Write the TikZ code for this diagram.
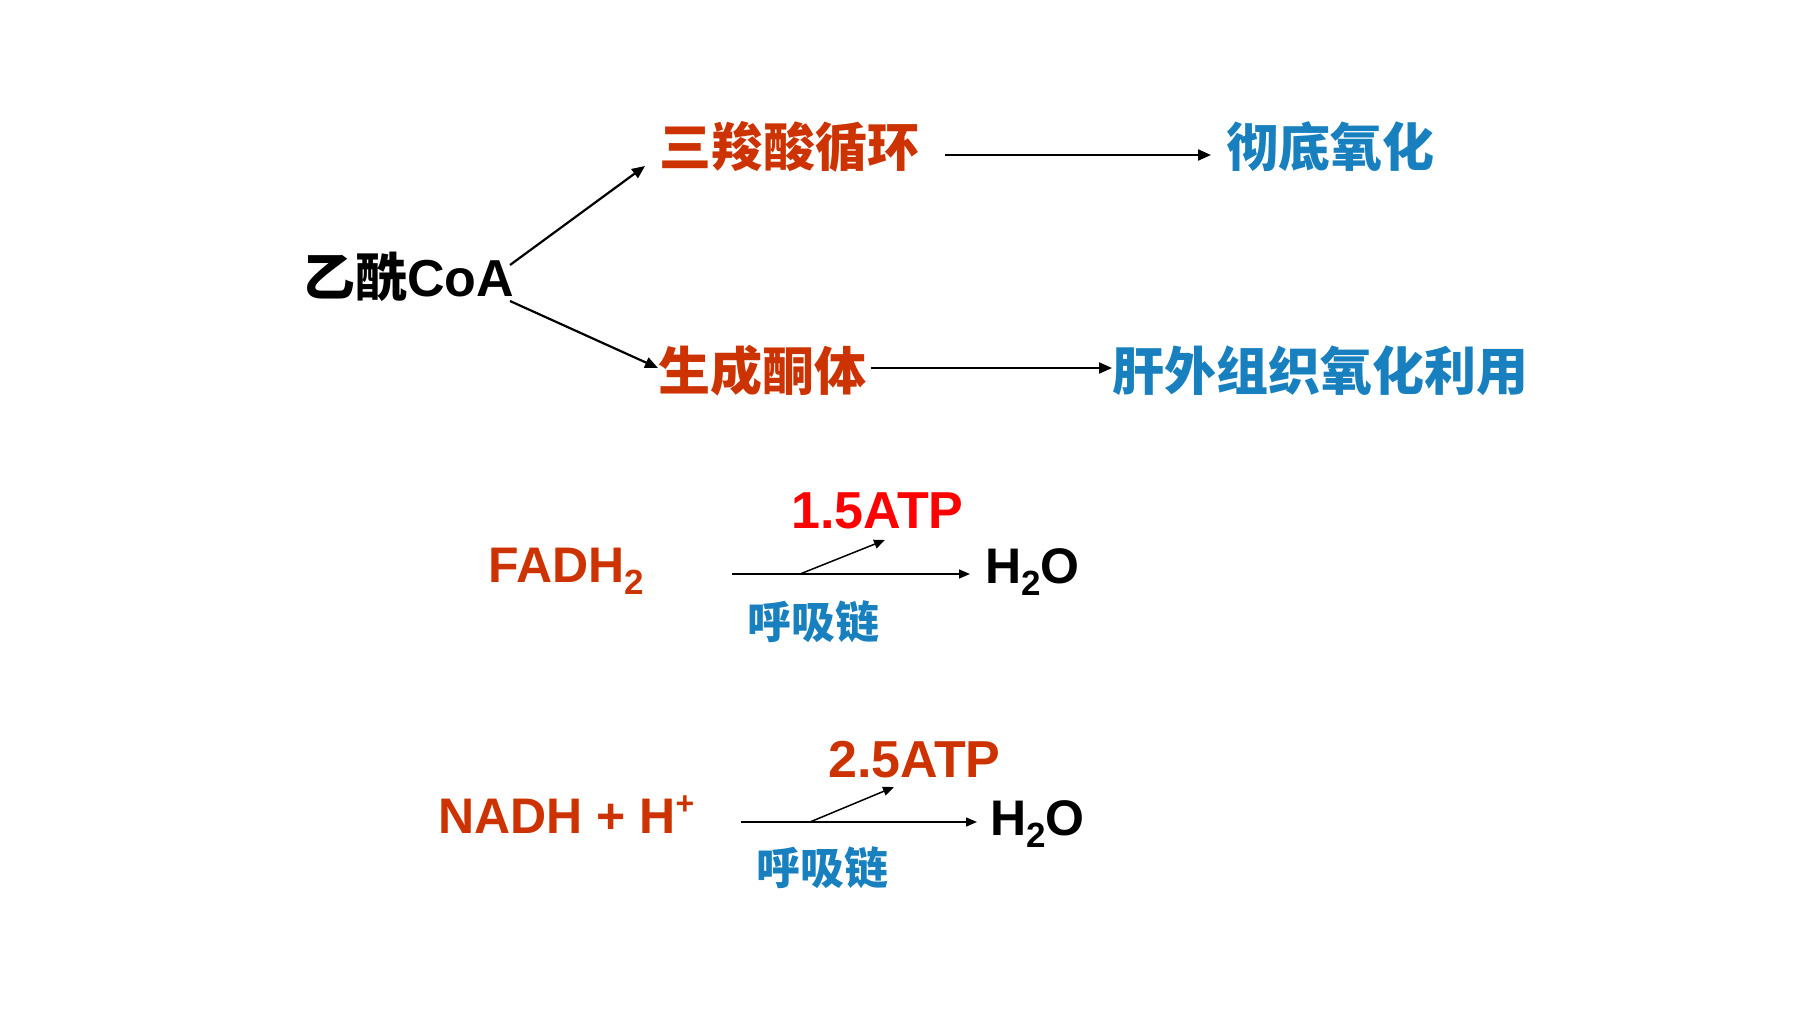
\documentclass[tikz,border=0pt]{standalone}
\usepackage{fontspec}
\setmainfont{Liberation Sans}
\newfontfamily\cjk{Noto Sans CJK SC}
\usetikzlibrary{arrows.meta}
\definecolor{ored}{RGB}{204,51,0}
\definecolor{pblue}{RGB}{24,128,190}
\definecolor{bred}{RGB}{255,0,0}
\tikzset{
  cjkbig/.style={inner sep=0pt, font=\cjk\bfseries\fontsize{52}{52}\selectfont},
  cjksmall/.style={inner sep=0pt, font=\cjk\bfseries\fontsize{44}{44}\selectfont, text=pblue},
  latin/.style={inner sep=0pt, anchor=base west, font=\bfseries\fontsize{50}{50}\selectfont},
  atplabel/.style={inner sep=0pt, anchor=base west, font=\bfseries\fontsize{52}{52}\selectfont},
  bigarrow/.style={line width=2.2pt, -{Triangle[length=13pt,width=11pt]}},
  smallarrow/.style={line width=1.5pt, -{Triangle[length=11pt,width=9pt]}}
}
\begin{document}
\begin{tikzpicture}[x=1pt,y=-1pt]
\useasboundingbox (0,0) rectangle (1799,1012);
% top part
\node[inner sep=0pt, anchor=base west, font=\bfseries\fontsize{52}{52}\selectfont] (acoa) at (303,296) {{\cjk 乙酰}CoA};
\node[cjkbig, text=ored] (tca) at (789,147) {三羧酸循环};
\node[cjkbig, text=ored] (ket) at (762,371) {生成酮体};
\node[cjkbig, text=pblue] (ox) at (1330,147) {彻底氧化};
\node[cjkbig, text=pblue] (use) at (1320,371) {肝外组织氧化利用};
\coordinate (a1s) at (510,265);
\coordinate (a1e) at (645,166);
\coordinate (a2s) at (510,301);
\coordinate (a2e) at (658,368);
\coordinate (a3s) at (945,155);
\coordinate (a3e) at (1211,155);
\coordinate (a4s) at (871,368);
\coordinate (a4e) at (1112,368);
\draw[bigarrow] (a1s) -- (a1e);
\draw[bigarrow] (a2s) -- (a2e);
\draw[bigarrow] (a3s) -- (a3e);
\draw[bigarrow] (a4s) -- (a4e);
% FADH2 row
\node[latin, text=ored] (fadh) at (488,582) {FADH\raisebox{-0.24em}{\fontsize{35}{35}\selectfont 2}};
\node[latin] (h2oa) at (985,583) {H\raisebox{-0.24em}{\fontsize{35}{35}\selectfont 2}O};
\node[atplabel, text=bred] (atp1) at (791,528) {1.5ATP};
\node[cjksmall] (rc1) at (813,622) {呼吸链};
\coordinate (b1s) at (732,574);
\coordinate (b1e) at (970,574);
\coordinate (b1m) at (800,574);
\coordinate (b1t) at (885,540);
\draw[smallarrow] (b1s) -- (b1e);
\draw[smallarrow] (b1m) -- (b1t);
% NADH row
\node[latin, text=ored] (nadh) at (438,833) {NADH + H\raisebox{0.38em}{\fontsize{32}{32}\selectfont +}};
\node[latin] (h2ob) at (990,835) {H\raisebox{-0.24em}{\fontsize{35}{35}\selectfont 2}O};
\node[atplabel, text=ored] (atp2) at (828,777) {2.5ATP};
\node[cjksmall] (rc2) at (822,868) {呼吸链};
\coordinate (b2s) at (741,822);
\coordinate (b2e) at (977,822);
\coordinate (b2m) at (810,822);
\coordinate (b2t) at (894,787);
\draw[smallarrow] (b2s) -- (b2e);
\draw[smallarrow] (b2m) -- (b2t);
\end{tikzpicture}
\end{document}
